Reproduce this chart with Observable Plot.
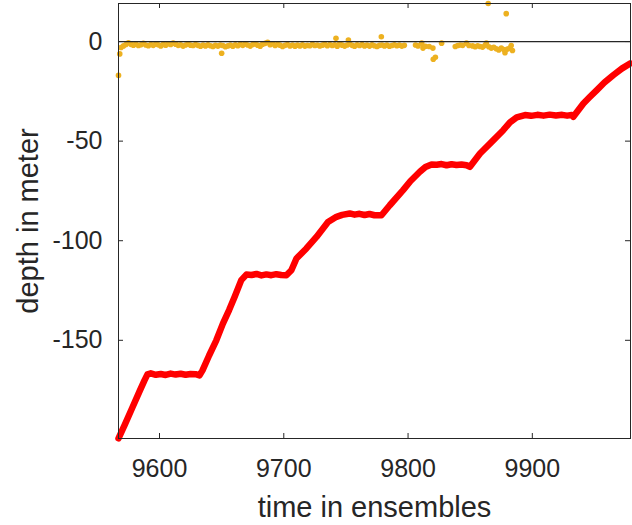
<!DOCTYPE html>
<html>
<head>
<meta charset="utf-8">
<script src="https://cdn.jsdelivr.net/npm/d3@7"></script>
<script src="https://cdn.jsdelivr.net/npm/@observablehq/plot@0.6"></script>
<style>
  html, body { margin: 0; padding: 0; background: #fff; }
</style>
</head>
<body>
<div id="chart"></div>
<script>
// ---- data ----
const xTicks = [9600, 9700, 9800, 9900];
const yTicks = [0, -50, -100, -150];

// red: instrument depth (ensemble, depth in m)
const depthEnsemble = [9567, 9572, 9578, 9584, 9588, 9590.3, 9593, 9597, 9601, 9605, 9609, 9613, 9617, 9621, 9625, 9629, 9632.2, 9634.6, 9640, 9645.7, 9651, 9656, 9660.4, 9665.8, 9669.9, 9674, 9678, 9682, 9686, 9690, 9694, 9698, 9702.1, 9706.1, 9710.2, 9718.2, 9726.3, 9735.6, 9742.4, 9747, 9753.1, 9757, 9761, 9765, 9769, 9773, 9778.6, 9785.3, 9796, 9802, 9809.5, 9814, 9818.9, 9823, 9827, 9831, 9835, 9839, 9843, 9847.1, 9849.8, 9857.9, 9867.3, 9876.6, 9882, 9887.4, 9894.1, 9899, 9904, 9909, 9914, 9919, 9924, 9928, 9931.7, 9933, 9941.1, 9946, 9951.9, 9958, 9965.3, 9972, 9978.7];
const depthValue = [-199.2, -192.5, -184.0, -175.5, -170.0, -167.1, -166.6, -167.3, -166.9, -167.4, -166.7, -167.2, -166.8, -167.3, -166.9, -167.0, -167.6, -165.1, -157.5, -150.0, -141.6, -134.8, -128.2, -119.8, -117.0, -117.2, -116.7, -117.4, -116.9, -117.3, -116.8, -117.2, -117.3, -114.8, -108.9, -103.9, -98.1, -90.6, -88.0, -87.0, -86.3, -86.9, -86.5, -87.1, -86.6, -87.2, -87.2, -82.2, -74.6, -70.0, -65.4, -63.0, -61.7, -61.9, -61.5, -62.1, -61.6, -62.0, -61.7, -62.1, -62.9, -56.2, -50.4, -44.5, -40.6, -38.1, -36.9, -37.3, -36.8, -37.2, -36.7, -37.1, -36.8, -37.2, -36.9, -37.8, -31.1, -28.0, -24.4, -20.6, -16.8, -13.6, -11.0];

// orange: surface detection (ensemble, depth in m)
const surfEnsemble = [9567, 9568, 9569, 9571, 9573, 9575, 9577, 9579, 9581, 9583, 9585, 9587, 9589, 9591, 9593, 9595, 9597, 9599, 9601, 9603, 9605, 9607, 9609, 9611, 9613, 9615, 9617, 9619, 9621, 9623, 9625, 9627, 9629, 9631, 9633, 9635, 9637, 9639, 9641, 9643, 9645, 9647, 9649, 9650, 9651, 9653, 9655, 9657, 9659, 9661, 9663, 9665, 9667, 9669, 9671, 9673, 9675, 9677, 9679, 9681, 9683, 9685, 9687, 9689, 9691, 9693, 9695, 9697, 9699, 9701, 9703, 9705, 9707, 9709, 9711, 9713, 9715, 9717, 9719, 9721, 9723, 9725, 9727, 9729, 9731, 9733, 9735, 9737, 9739, 9741, 9742, 9743, 9745, 9747, 9749, 9751, 9752, 9753, 9755, 9757, 9759, 9761, 9763, 9765, 9767, 9769, 9771, 9773, 9775, 9777, 9778.5, 9779, 9781, 9783, 9785, 9787, 9789, 9791, 9793, 9795, 9797, 9806, 9808, 9811, 9812, 9814, 9817, 9820, 9820.3, 9822, 9827, 9838, 9840, 9842, 9844, 9847, 9849, 9852, 9854, 9856, 9858, 9860, 9862, 9863, 9864.5, 9865, 9867, 9869, 9871, 9873, 9875, 9877, 9878, 9879, 9880, 9882, 9883, 9884];
const surfValue = [-17.0, -6.2, -3.0, -2.2, -1.5, -0.6, -1.4, -1.8, -1.2, -2.0, -1.6, -0.9, -1.7, -2.1, -1.5, -1.9, -1.2, -1.6, -2.2, -1.4, -1.8, -1.1, -1.5, -0.8, -1.3, -1.9, -1.6, -2.3, -1.7, -1.2, -1.8, -2.0, -1.5, -1.9, -2.4, -1.8, -2.2, -1.6, -2.1, -2.5, -1.9, -2.3, -1.7, -5.9, -2.0, -2.6, -2.2, -1.8, -2.4, -1.6, -2.1, -1.4, -1.9, -1.2, -1.7, -2.3, -1.5, -1.1, -1.8, -2.4, -1.3, -0.9, -0.4, -1.6, -1.1, -2.0, -1.4, -1.8, -2.5, -1.9, -1.5, -2.2, -1.7, -2.4, -1.8, -2.2, -1.6, -2.3, -1.9, -2.1, -1.4, -2.0, -1.7, -2.2, -1.8, -1.4, -2.1, -1.5, -2.0, -1.6, 1.6, -2.4, -1.1, -1.8, -2.3, -1.7, 0.8, -1.2, -1.9, -2.4, -1.6, -2.0, -1.5, -2.2, -1.8, -2.3, -1.6, -2.1, -2.5, -1.9, 2.4, -1.7, -2.2, -1.8, -2.4, -2.0, -1.6, -2.1, -1.8, -2.3, -1.9, -1.7, -2.2, -0.8, -3.3, -2.4, -2.5, -3.3, -8.9, -7.9, -0.8, -2.5, -2.0, -1.7, -1.9, -0.8, -2.0, -2.2, -2.6, -2.1, -2.5, -2.8, -1.9, -0.8, 19.1, -2.6, -3.3, -2.9, -3.6, -4.2, -3.3, -4.0, -5.6, 14.0, -3.8, -3.3, -2.0, -4.5];

const depthData = depthEnsemble.map((t, i) => ({t, d: depthValue[i]}));
const surfData = surfEnsemble.map((t, i) => ({t, d: surfValue[i]}));

// ---- layout ----
const W = 632, H = 525;
const mL = 118, mR = 2, mT = 3, mB = 87;
const innerW = W - mL - mR, innerH = H - mT - mB;
const axisColor = "#262626";
const tickLen = 5;

const chart = Plot.plot({
  width: W,
  height: H,
  marginLeft: mL,
  marginRight: mR,
  marginTop: mT,
  marginBottom: mB,
  style: {fontFamily: "'Liberation Sans', Arial, Helvetica, sans-serif", fontSize: "25px", color: axisColor, background: "#fff", overflow: "visible"},
  x: {domain: [9567, 9979], ticks: xTicks},
  y: {domain: [-199.3, 19.1], ticks: yTicks},
  marks: [
    Plot.line(depthData, {x: "t", y: "d", stroke: "#ff0000", strokeWidth: 6.5, strokeLinejoin: "round", strokeLinecap: "round"}),
    Plot.dot(surfData, {x: "t", y: "d", r: 2.8, fill: "#EDB120", stroke: "none"}),
    Plot.ruleY([0], {stroke: axisColor, strokeWidth: 1.2}),
    // inward ticks on all four sides
    Plot.tickX(xTicks, {x: d => d, insetTop: innerH - tickLen, stroke: axisColor}),
    Plot.tickX(xTicks, {x: d => d, insetBottom: innerH - tickLen, stroke: axisColor}),
    Plot.tickY(yTicks, {y: d => d, insetRight: innerW - tickLen, stroke: axisColor}),
    Plot.tickY(yTicks, {y: d => d, insetLeft: innerW - tickLen, stroke: axisColor}),
    Plot.frame({stroke: axisColor, strokeWidth: 1}),
    Plot.axisX(xTicks, {tickSize: 0, tickPadding: 21, tickFormat: d => String(d), label: null, fill: axisColor}),
    Plot.axisY(yTicks, {tickSize: 0, tickPadding: 16, tickFormat: d => String(d), label: null, fill: axisColor}),
    Plot.text(["time in ensembles"], {frameAnchor: "bottom", textAnchor: "middle", lineAnchor: "middle", dy: 69, fontSize: 29, fill: axisColor}),
    Plot.text(["depth in meter"], {frameAnchor: "left", textAnchor: "middle", lineAnchor: "middle", rotate: -90, dx: -90, fontSize: 29, fill: axisColor})
  ]
});
document.getElementById("chart").appendChild(chart);
</script>
</body>
</html>
